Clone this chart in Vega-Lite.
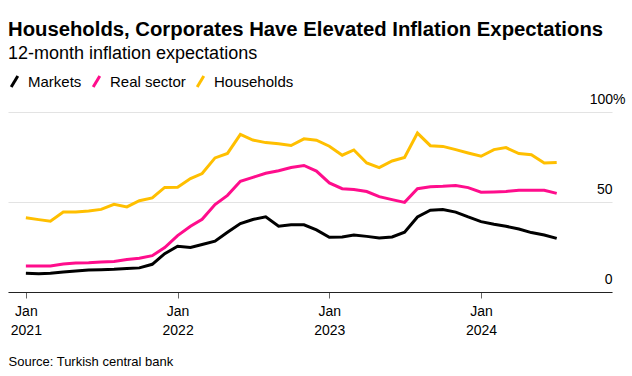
{
  "$schema": "https://vega.github.io/schema/vega-lite/v6.json",
  "width": 604,
  "height": 180,
  "autosize": {"type": "none"},
  "padding": {"left": 8, "top": 112, "right": 20, "bottom": 84},
  "background": "#ffffff",
  "config": {"view": {"stroke": null}},
  "title": {
    "text": "Households, Corporates Have Elevated Inflation Expectations",
    "subtitle": "12-month inflation expectations",
    "anchor": "start",
    "frame": "group",
    "font": "Liberation Sans",
    "fontSize": 20.3,
    "fontWeight": "bold",
    "color": "#000000",
    "subtitleFont": "Liberation Sans",
    "subtitleFontSize": 18,
    "subtitleColor": "#000000",
    "subtitlePadding": 5,
    "offset": 11
  },
  "data": {
    "values": [
      {"month": "2021-01-01", "Markets": 10.4, "Real sector": 14.4, "Households": 41.3},
      {"month": "2021-02-01", "Markets": 10.2, "Real sector": 14.4, "Households": 40.2},
      {"month": "2021-03-01", "Markets": 10.4, "Real sector": 14.4, "Households": 39.3},
      {"month": "2021-04-01", "Markets": 11.1, "Real sector": 15.6, "Households": 44.4},
      {"month": "2021-05-01", "Markets": 11.7, "Real sector": 16.1, "Households": 44.4},
      {"month": "2021-06-01", "Markets": 12.2, "Real sector": 16.3, "Households": 45.0},
      {"month": "2021-07-01", "Markets": 12.4, "Real sector": 16.7, "Households": 45.9},
      {"month": "2021-08-01", "Markets": 12.6, "Real sector": 17.0, "Households": 48.7},
      {"month": "2021-09-01", "Markets": 13.0, "Real sector": 18.0, "Households": 47.3},
      {"month": "2021-10-01", "Markets": 13.4, "Real sector": 18.7, "Households": 50.7},
      {"month": "2021-11-01", "Markets": 15.4, "Real sector": 20.2, "Households": 52.3},
      {"month": "2021-12-01", "Markets": 21.3, "Real sector": 24.7, "Households": 58.1},
      {"month": "2022-01-01", "Markets": 25.4, "Real sector": 31.3, "Households": 58.2},
      {"month": "2022-02-01", "Markets": 24.7, "Real sector": 36.5, "Households": 63.0},
      {"month": "2022-03-01", "Markets": 26.4, "Real sector": 40.4, "Households": 65.8},
      {"month": "2022-04-01", "Markets": 28.2, "Real sector": 48.6, "Households": 74.5},
      {"month": "2022-05-01", "Markets": 33.2, "Real sector": 53.7, "Households": 77.0},
      {"month": "2022-06-01", "Markets": 38.0, "Real sector": 61.5, "Households": 87.5},
      {"month": "2022-07-01", "Markets": 40.3, "Real sector": 63.7, "Households": 84.4},
      {"month": "2022-08-01", "Markets": 41.8, "Real sector": 66.0, "Households": 83.0},
      {"month": "2022-09-01", "Markets": 36.6, "Real sector": 67.4, "Households": 82.4},
      {"month": "2022-10-01", "Markets": 37.3, "Real sector": 69.2, "Households": 81.4},
      {"month": "2022-11-01", "Markets": 37.3, "Real sector": 70.3, "Households": 85.1},
      {"month": "2022-12-01", "Markets": 34.5, "Real sector": 67.2, "Households": 84.3},
      {"month": "2023-01-01", "Markets": 30.4, "Real sector": 60.6, "Households": 81.0},
      {"month": "2023-02-01", "Markets": 30.5, "Real sector": 57.4, "Households": 76.0},
      {"month": "2023-03-01", "Markets": 31.6, "Real sector": 57.0, "Households": 78.9},
      {"month": "2023-04-01", "Markets": 30.9, "Real sector": 55.8, "Households": 71.7},
      {"month": "2023-05-01", "Markets": 30.0, "Real sector": 53.0, "Households": 69.1},
      {"month": "2023-06-01", "Markets": 30.6, "Real sector": 51.3, "Households": 72.8},
      {"month": "2023-07-01", "Markets": 33.2, "Real sector": 49.8, "Households": 74.7},
      {"month": "2023-08-01", "Markets": 41.7, "Real sector": 57.4, "Households": 88.3},
      {"month": "2023-09-01", "Markets": 45.4, "Real sector": 58.5, "Households": 81.3},
      {"month": "2023-10-01", "Markets": 45.8, "Real sector": 58.7, "Households": 80.9},
      {"month": "2023-11-01", "Markets": 44.4, "Real sector": 59.1, "Households": 79.1},
      {"month": "2023-12-01", "Markets": 41.7, "Real sector": 58.0, "Households": 77.2},
      {"month": "2024-01-01", "Markets": 39.1, "Real sector": 55.4, "Households": 75.4},
      {"month": "2024-02-01", "Markets": 37.6, "Real sector": 55.6, "Households": 79.1},
      {"month": "2024-03-01", "Markets": 36.5, "Real sector": 55.9, "Households": 80.2},
      {"month": "2024-04-01", "Markets": 35.0, "Real sector": 56.5, "Households": 76.9},
      {"month": "2024-05-01", "Markets": 33.0, "Real sector": 56.5, "Households": 76.3},
      {"month": "2024-06-01", "Markets": 31.7, "Real sector": 56.5, "Households": 71.7},
      {"month": "2024-07-01", "Markets": 29.8, "Real sector": 54.8, "Households": 72.0}
    ]
  },
  "transform": [
    {"fold": ["Markets", "Real sector", "Households"], "as": ["series", "value"]}
  ],
  "mark": {"type": "line", "strokeWidth": 3, "strokeJoin": "miter", "strokeCap": "butt"},
  "encoding": {
    "x": {
      "field": "month",
      "type": "temporal",
      "scale": {
        "type": "utc",
        "domain": [
          {"year": 2020, "month": 11, "date": 19, "utc": true},
          {"year": 2024, "month": 11, "date": 11, "utc": true}
        ]
      },
      "axis": {
        "values": [
          {"year": 2021, "month": 1, "date": 1, "utc": true},
          {"year": 2022, "month": 1, "date": 1, "utc": true},
          {"year": 2023, "month": 1, "date": 1, "utc": true},
          {"year": 2024, "month": 1, "date": 1, "utc": true}
        ],
        "labelExpr": "[utcFormat(datum.value, '%b'), utcFormat(datum.value, '%Y')]",
        "grid": false,
        "domain": true,
        "domainColor": "#222222",
        "domainWidth": 1.2,
        "ticks": true,
        "tickColor": "#666666",
        "tickSize": 6,
        "tickWidth": 1,
        "labelFont": "Liberation Sans",
        "labelFontSize": 14,
        "labelColor": "#000000",
        "labelPadding": 6,
        "labelLineHeight": 19,
        "labelAngle": 0,
        "labelAlign": "center",
        "labelBaseline": "top",
        "title": "Source: Turkish central bank",
        "titleFont": "Liberation Sans",
        "titleFontSize": 13,
        "titleFontWeight": "normal",
        "titleColor": "#000000",
        "titleAnchor": "start",
        "titleAlign": "left",
        "titleBaseline": "alphabetic",
        "titleX": 0,
        "titleY": 73,
        "zindex": 1
      }
    },
    "y": {
      "field": "value",
      "type": "quantitative",
      "scale": {"domain": [0, 100], "nice": false, "zero": true},
      "axis": {
        "orient": "right",
        "values": [0, 50, 100],
        "labelExpr": "datum.value == 100 ? '100%' : datum.label",
        "domain": false,
        "ticks": false,
        "grid": true,
        "gridColor": "#e3e3e3",
        "gridWidth": 1,
        "labelFont": "Liberation Sans",
        "labelFontSize": 14,
        "labelColor": "#000000",
        "labelAlign": "right",
        "labelBaseline": "alphabetic",
        "labelOffset": -9,
        "labelPadding": {"condition": {"test": "datum.value == 100", "value": 13}, "value": 0},
        "title": null
      }
    },
    "color": {
      "field": "series",
      "type": "nominal",
      "scale": {
        "domain": ["Markets", "Real sector", "Households"],
        "range": ["#000000", "#ff0d8c", "#ffbf00"]
      },
      "legend": {
        "orient": "none",
        "legendX": -1,
        "legendY": -38,
        "direction": "horizontal",
        "title": null,
        "symbolType": "M-0.6,1L0.6,-1",
        "symbolSize": 121,
        "symbolStrokeWidth": 3,
        "labelFont": "Liberation Sans",
        "labelFontSize": 15,
        "labelColor": "#000000",
        "labelOffset": 6,
        "columnPadding": 5,
        "padding": 0
      }
    }
  }
}
